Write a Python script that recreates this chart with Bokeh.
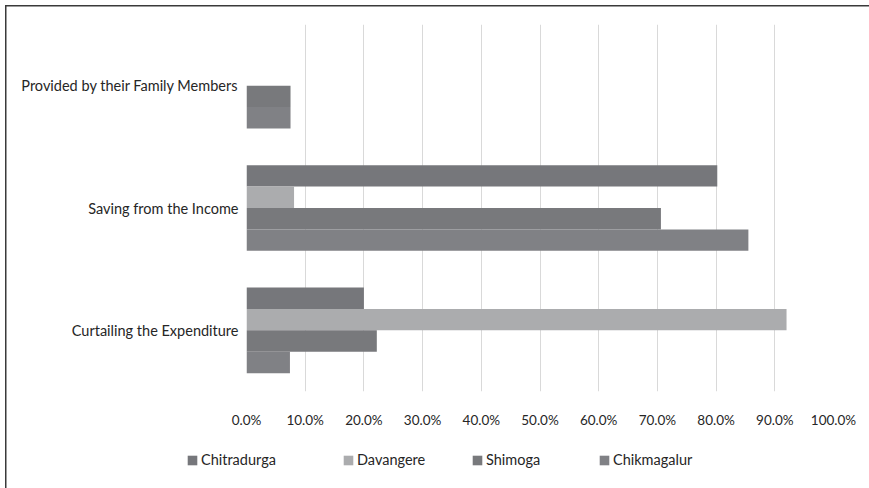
from bokeh.plotting import figure
from bokeh.layouts import column
from bokeh.models import (FactorRange, Range1d, FixedTicker, NumeralTickFormatter,
                          Legend, LegendItem, ColumnDataSource)
from bokeh.transform import dodge
from bokeh.embed import file_html
from bokeh.resources import INLINE

# Categories, top to bottom as shown
categories = [
    "Provided by their Family Members",
    "Saving from the Income",
    "Curtailing the Expenditure",
]
districts = ["Chitradurga", "Davangere", "Shimoga", "Chikmagalur"]

# Share of respondents (fractions) per district, in category order
chitradurga = [0.0, 0.802, 0.200]
davangere = [0.0, 0.081, 0.920]
shimoga = [0.075, 0.706, 0.222]
chikmagalur = [0.075, 0.855, 0.074]

x_ticks = [0.0, 0.1, 0.2, 0.3, 0.4, 0.5, 0.6, 0.7, 0.8, 0.9, 1.0]

colors = ["#76777b", "#abacae", "#78797c", "#808185"]
legend_x = [186, 342, 471, 598]   # left edge of each legend entry, px
FONT = "Lato"
TEXT = "#262626"
RULE = "#3a3a3a"

source = ColumnDataSource(dict(
    cat=categories,
    Chitradurga=chitradurga,
    Davangere=davangere,
    Shimoga=shimoga,
    Chikmagalur=chikmagalur,
))

# ---- chart ----
p = figure(
    width=869, height=440,
    y_range=FactorRange(*reversed(categories)),
    x_range=Range1d(0, 1),
    output_backend="svg", toolbar_location=None,
    min_border_left=246, min_border_right=36,
    min_border_top=24, min_border_bottom=49,
)
p.frame_align = False
p.outline_line_color = None
p.background_fill_color = "white"
p.border_fill_alpha = 0
# thin dark rules along the top and left of the figure box
p.styles = {
    "background": (
        f"linear-gradient({RULE},{RULE}) 5px 5px / 1.5px 100% no-repeat, "
        f"linear-gradient({RULE},{RULE}) 5px 5px / 100% 1.5px no-repeat, white"
    ),
}

bar_h = 0.175
offsets = [1.5 * bar_h, 0.5 * bar_h, -0.5 * bar_h, -1.5 * bar_h]
for name, off, col in zip(districts, offsets, colors):
    p.hbar(y=dodge("cat", off, range=p.y_range), right=name, left=0,
           height=bar_h, source=source, fill_color=col, line_color=None)

# x axis: percentages, no line or ticks
p.xaxis.ticker = FixedTicker(ticks=x_ticks)
p.xaxis.formatter = NumeralTickFormatter(format="0.0%")
p.xaxis.axis_line_color = None
p.xaxis.major_tick_line_color = None
p.xaxis.major_tick_out = 0
p.xaxis.minor_tick_line_color = None
p.xaxis.major_label_standoff = 20
p.xaxis.major_label_text_font = FONT
p.xaxis.major_label_text_font_size = "13.5px"
p.xaxis.major_label_text_color = TEXT

# y axis: category names
p.yaxis.axis_line_color = None
p.yaxis.major_tick_line_color = None
p.yaxis.major_tick_out = 0
p.yaxis.minor_tick_line_color = None
p.yaxis.major_label_standoff = 8
p.yaxis.major_label_text_font = FONT
p.yaxis.major_label_text_font_size = "14.5px"
p.yaxis.major_label_text_color = TEXT

p.xgrid.grid_line_color = "#d9d9d9"
p.xgrid.grid_line_width = 1
p.ygrid.grid_line_color = None

# ---- legend strip ----
leg = figure(
    width=869, height=48,
    x_range=Range1d(0, 1), y_range=Range1d(0, 1),
    output_backend="svg", toolbar_location=None,
    min_border=0, x_axis_location=None, y_axis_location=None,
)
leg.frame_align = False
leg.outline_line_color = None
leg.grid.visible = False
leg.background_fill_alpha = 0
leg.border_fill_alpha = 0
leg.styles = {
    "background": (
        f"linear-gradient({RULE},{RULE}) 5px 0 / 1.5px 100% no-repeat, white"
    ),
}

# swatch renderers for the legend, kept outside the strip's visible range
for name, col, lx in zip(districts, colors, legend_x):
    sw = leg.hbar(y=[-5], right=[1], left=0, height=0.5,
                  fill_color=col, line_color=None)
    entry = Legend(
        items=[LegendItem(label=name, renderers=[sw])],
        location=(lx, 20),
        glyph_width=12, glyph_height=12,
        label_height=12, label_standoff=3,
        padding=0, margin=0,
        border_line_color=None, background_fill_alpha=0,
        label_text_font=FONT, label_text_font_size="14.5px",
        label_text_color=TEXT,
    )
    leg.add_layout(entry, "center")

layout = column(p, leg, spacing=0)
open("out.html", "w").write(file_html(layout, INLINE))
